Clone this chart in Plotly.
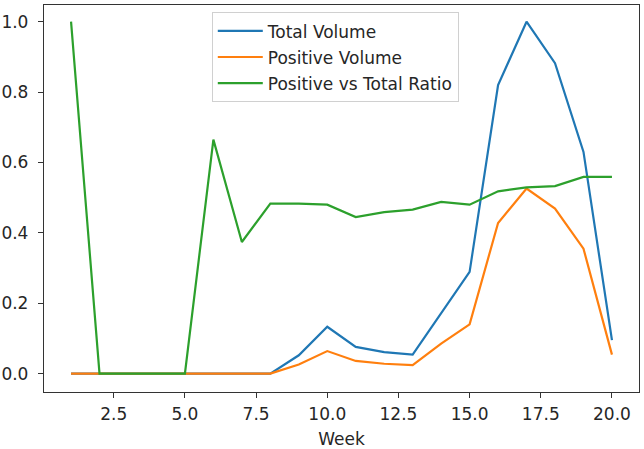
import plotly.graph_objects as go

weeks = list(range(1, 21))
total_volume = [0, 0, 0, 0, 0, 0, 0, 0, 0.052, 0.133, 0.076, 0.061, 0.054,
                0.17, 0.289, 0.82, 1.0, 0.882, 0.63, 0.095]
positive_volume = [0, 0, 0, 0, 0, 0, 0, 0, 0.026, 0.064, 0.036, 0.028, 0.024,
                   0.085, 0.14, 0.428, 0.526, 0.469, 0.355, 0.054]
ratio = [1.0, 0, 0, 0, 0, 0.665, 0.374, 0.483, 0.483, 0.48, 0.445, 0.459, 0.466,
         0.488, 0.48, 0.518, 0.529, 0.533, 0.559, 0.559]
series_names = ["Total Volume", "Positive Volume", "Positive vs Total Ratio"]
colors = ["#1f77b4", "#ff7f0e", "#2ca02c"]

fig = go.Figure()
for i, (name, vals) in enumerate(zip(series_names, [total_volume, positive_volume, ratio])):
    fig.add_trace(go.Scatter(x=weeks, y=vals, mode="lines", name=name,
                             legendgroup=f"g{i}",
                             line=dict(color=colors[i], width=2.2)))

axis_common = dict(showline=True, linecolor="#333333", linewidth=1.3, mirror=True,
                   ticks="outside", ticklen=5, tickwidth=1.2, tickcolor="#333333",
                   showgrid=False, zeroline=False, automargin=False,
                   tickfont=dict(family="DejaVu Sans", size=17, color="#262626"))

fig.update_layout(
    width=644, height=449,
    margin=dict(l=44, r=5, t=5, b=57),
    plot_bgcolor="white", paper_bgcolor="white",
    font=dict(family="DejaVu Sans", size=17, color="#262626"),
    xaxis=dict(range=[0.05, 20.95], tick0=2.5, dtick=2.5, tickformat=".1f",
               ticklabelstandoff=1,
               title=dict(text="Week", font=dict(size=17), standoff=10), **axis_common),
    yaxis=dict(range=[-0.0523, 1.0475], tick0=0, dtick=0.2, tickformat=".1f",
               ticklabelstandoff=6, **axis_common),
    legend=dict(x=0.282, y=0.981, xanchor="left", yanchor="top",
                bgcolor="rgba(255,255,255,0.9)", bordercolor="#d0d0d0", borderwidth=1,
                font=dict(size=17), tracegroupgap=1, itemwidth=45),
    showlegend=True,
)

# remove the browser's default 8px page margin so the figure sits at the window's corner
fig.write_html("out.html", config={"displayModeBar": False},
               post_script="document.body.style.margin='0px';")
